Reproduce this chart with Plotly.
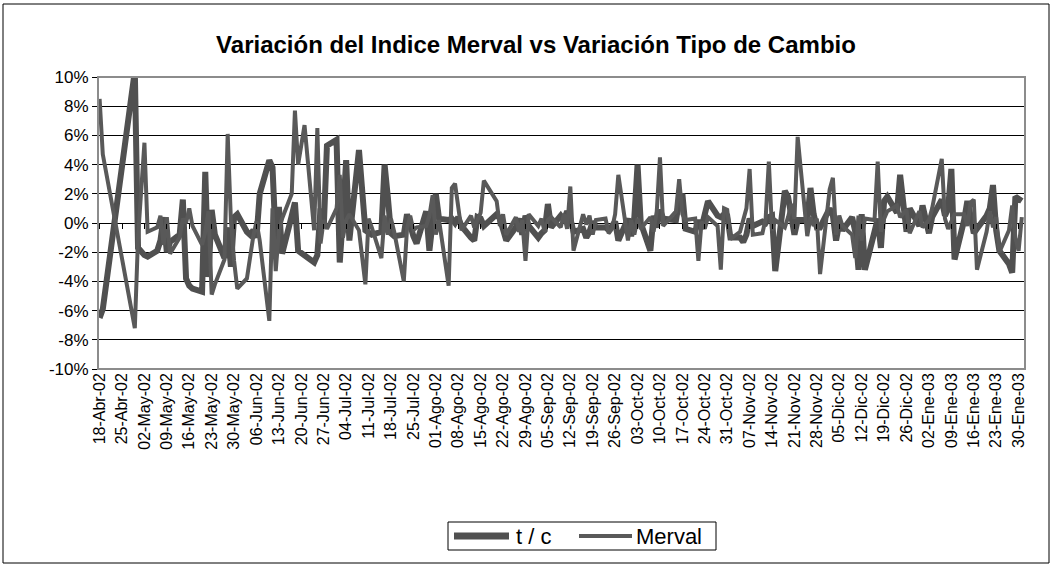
import pandas as pd
import plotly.graph_objects as go

# Trading days (weekdays) between first and last date, excluding market closures/holidays
start_date = "2002-04-18"
end_date = "2003-01-31"
closed_days = ["2002-04-22", "2002-04-23", "2002-04-24", "2002-04-25", "2002-04-26",
               "2002-05-01", "2002-06-20", "2002-07-09", "2002-08-19", "2002-10-14",
               "2002-12-25", "2003-01-01"]

# Daily variation of the exchange rate (t / c), in %
tc = [
    -6.5, -5.9,                      # 18-19 Apr
    10.4, -1.7,                      # 29-30 Apr
    -2.2, -2.3,                      # 2-3 May
    -1.9, -1.2, 0.4, -2.0, -1.3,     # 6-10 May
    -0.8, 1.6, -3.8, -4.3, -4.5,     # 13-17 May
    -4.7, 3.5, -3.7, 0.9, -0.8,      # 20-24 May
    -2.4, -0.3, -3.0, 0.4, 0.6,      # 27-31 May
    -0.6, -0.8, -0.5, -1.0, 2.0,     # 3-7 Jun
    4.3, 3.8, -1.2, 1.1, -2.1,       # 10-14 Jun
    0.5, 1.4, -1.9, -2.2,            # 17-21 Jun
    -2.7, -2.2, 1.0, -0.3, 5.3,      # 24-28 Jun
    5.7, -2.7, 0.5, 4.3, -1.2,       # 1-5 Jul
    5.0, -0.5, -0.6, -0.8,           # 8-12 Jul
    -0.6, 4.0, 1.8, -0.7, -0.9,      # 15-19 Jul
    -0.8, 0.6, -0.3, -0.9, -1.4,     # 22-26 Jul
    0.8, -1.9, -0.3, 2.0, 0.3,       # 29 Jul-2 Aug
    0.2, 0.3, 0.0, 0.4, -0.2,        # 5-9 Aug
    -1.0, -1.2, 0.4, 0.3, -0.2,      # 12-16 Aug
    0.6, 0.3, -0.4, -1.2,            # 20-23 Aug
    -0.3, 0.3, -0.8, 0.5, -0.2,      # 26-30 Aug
    -1.0, -0.7, -0.5, 1.3, -0.3,     # 2-6 Sep
    0.5, 0.2, 0.8, 0.3, -0.6,        # 9-13 Sep
    -0.4, -1.0, -0.6, 0.1, -0.3,     # 16-20 Sep
    -0.3, -0.5, -0.2, 0.1, -1.2,     # 23-27 Sep
    0.3, -0.9, 0.4, 4.0, 0.0,        # 30 Sep-4 Oct
    -1.9, 0.5, -0.3, 0.9, 0.3,       # 7-11 Oct
    0.2, 1.5, 2.0, -0.4,             # 15-18 Oct
    -0.6, 0.2, -0.3, 0.6, 1.5,       # 21-25 Oct
    0.5, 0.4, 0.6, 0.5, -1.0,        # 28 Oct-1 Nov
    -1.0, -1.3, -0.8, 0.3, -0.2,     # 4-8 Nov
    0.1, 0.0, 0.4, 0.5, -3.3,        # 11-15 Nov
    2.2, 1.8, 0.3, -0.8, 0.2,        # 18-22 Nov
    0.2, 2.4, 0.6, -0.3, -0.3,       # 25-29 Nov
    1.0, 0.5, -1.2, 0.0, -0.5,       # 2-6 Dec
    0.4, -0.6, -3.2, 0.6, -3.2,      # 9-13 Dec
    -0.6, 0.3, -1.7, 1.5, 1.8,       # 16-20 Dec
    0.7, 3.3, -0.6, 1.0,             # 23-27 Dec
    -0.2, 1.2,                       # 30-31 Dec
    -0.7, 0.4,                       # 2-3 Jan
    1.6, 0.5, 1.0, 3.7, -2.5,        # 6-10 Jan
    0.2, 1.5, 0.5, -0.7, -0.4,       # 13-17 Jan
    0.5, 1.0, 2.6, -0.5, -1.9,       # 20-24 Jan
    -2.8, -3.4, 1.8, 1.6, 1.5,       # 27-31 Jan
]

# Daily variation of the Merval index, in %
merval = [
    8.5, 4.7,
    -7.2, -1.0,
    5.5, -0.6,
    -0.3, 0.5, -1.5, 0.4, -2.1,
    -1.0, 0.3, 0.0, 1.0, -0.2,
    -1.5, -0.6, 0.8, -4.9, -4.2,
    -2.5, 6.1, 0.2, -2.6, -4.5,
    -3.8, -2.2, -0.9, 0.1, -1.2,
    -6.7, 1.0, -3.3, -0.5, 0.3,
    2.0, 7.7, 4.0, 6.7,
    -0.5, 6.5, -1.4, 0.2, -0.4,
    1.0, 3.3, -1.0, 0.2, 0.6,
    -0.5, -4.2, 0.3, -0.3,
    -2.4, 0.5, -0.8, 0.3, -0.6,
    -4.0, -0.4, 0.5, -0.5, -0.3,
    -0.2, 0.5, 1.9, -0.8, 0.2,
    -4.3, 2.4, 2.7, 1.2, -0.5,
    0.5, -0.3, 0.2, 0.7, 2.9,
    1.5, -0.2, 0.6, -0.8,
    0.4, -0.6, 0.2, -2.6, 0.6,
    -0.2, 0.3, -0.6, 0.2, 0.4,
    -0.3, 0.6, -0.4, 2.5, -1.9,
    0.6, -0.1, 0.5, -0.8, 0.2,
    0.3, -0.7, -0.4, 0.6, 3.3,
    -1.2, 0.2, -0.8, 0.3, -0.4,
    0.4, -0.6, 0.8, 4.5, -0.2,
    0.8, 3.0, 0.6, 0.2,
    0.3, -2.6, 0.1, -0.4, 0.4,
    -0.2, -3.2, 1.0, 0.9, -1.1,
    -0.6, 0.2, 1.0, 3.7, -0.8,
    -0.7, 0.3, 4.2, -0.5, 0.2,
    -0.3, 0.4, 1.3, 0.3, 5.9,
    -0.9, 0.4, -0.2, 0.3, -3.5,
    2.3, 3.1, -0.8, 0.5, -0.2,
    -0.8, -2.4, 0.5, -1.2, 0.3,
    0.2, 4.2, -0.6, 0.3, 0.8,
    1.2, 0.4, 0.9, -0.7,
    0.8, -0.3,
    0.2, 1.0,
    4.4, 0.3, -0.4, 0.1, 0.6,
    0.6, -0.2, 1.4, 1.6, -3.2,
    -0.6, 0.8, -0.3, 0.4, -2.0,
    -0.5, 1.2, -1.0, -1.9, 0.4,
]

series_names = ["t / c", "Merval"]

# Weekly tick labels
tick_dates = pd.date_range("2002-04-18", "2003-01-30", freq="7D")
month_es = {1: "Ene", 2: "Feb", 3: "Mar", 4: "Abr", 5: "May", 6: "Jun", 7: "Jul",
            8: "Ago", 9: "Sep", 10: "Oct", 11: "Nov", 12: "Dic"}
tick_text = [f"{d.day:02d}-{month_es[d.month]}-{d.strftime('%y')}" for d in tick_dates]

y_ticks = [-10, -8, -6, -4, -2, 0, 2, 4, 6, 8, 10]
y_text = [f"{v}%" for v in y_ticks]

dates = pd.bdate_range(start_date, end_date)
dates = dates[~dates.isin(pd.to_datetime(closed_days))]
assert len(dates) == len(tc) == len(merval), (len(dates), len(tc), len(merval))

TC_COLOR, MV_COLOR = "#505050", "#595959"
TC_W, MV_W = 6, 4
X_RANGE = ["2002-04-17 12:00", "2003-02-01"]

fig = go.Figure()
fig.add_trace(go.Scatter(x=dates, y=tc, mode="lines", name=series_names[0],
                         line=dict(color=TC_COLOR, width=TC_W), showlegend=False))
fig.add_trace(go.Scatter(x=dates, y=merval, mode="lines", name=series_names[1],
                         line=dict(color=MV_COLOR, width=MV_W), showlegend=False))

# page body margin is removed by post_script, so page pixels == figure pixels
W, H = 1053, 567
PL, PR, PT, PB = 98, 1025, 77, 369          # plot area in pixels
L, T, R, B = PL, PT, W - PR, H - PB
pw, ph = W - L - R, H - T - B


def px_x(x):
    return (x - L) / pw


def px_y(y):
    return (T + ph - y) / ph


fig.update_layout(
    width=W, height=H,
    margin=dict(l=L, r=R, t=T, b=B, autoexpand=False),
    paper_bgcolor="white", plot_bgcolor="white",
    font=dict(family="Liberation Sans, Arial, sans-serif", color="black"),
    title=dict(text="<b>Variación del Indice Merval vs Variación Tipo de Cambio</b>",
               x=536 / W, xanchor="center", y=1 - 45 / H,
               yanchor="middle", font=dict(size=24, color="black")),
    showlegend=False,
    xaxis=dict(type="date", range=X_RANGE,
               tickvals=tick_dates, ticktext=tick_text, tickangle=-90,
               tickfont=dict(size=16), showgrid=False, zeroline=False,
               showline=False, ticks="", automargin=False),
    # axis crossing at 0%: small tick marks on the zero line
    xaxis2=dict(type="date", range=X_RANGE, overlaying="x", anchor="free",
                position=0.5, side="bottom", tickvals=tick_dates,
                showticklabels=False, ticks="outside", ticklen=5,
                tickcolor="black", showgrid=False, zeroline=False,
                showline=False, automargin=False),
    yaxis=dict(range=[-10, 10], tickvals=y_ticks, ticktext=y_text,
               tickfont=dict(size=17), showgrid=True, gridcolor="black",
               gridwidth=1, zeroline=False, showline=True, linecolor="black",
               linewidth=1, ticks="outside", ticklen=5, tickcolor="black",
               automargin=False),
)
# invisible trace so the zero-line tick axis is drawn
fig.add_trace(go.Scatter(x=[dates[0]], y=[0], xaxis="x2", mode="markers",
                         marker=dict(opacity=0), showlegend=False, hoverinfo="skip"))

# Plot area border (gray) and outer chart border
fig.add_shape(type="rect", xref="paper", yref="paper", x0=0, x1=1, y0=0, y1=1,
              line=dict(color="#8c8c8c", width=2), layer="above")
fig.add_shape(type="rect", xref="paper", yref="paper",
              x0=px_x(3), x1=px_x(1049), y0=px_y(563), y1=px_y(4),
              line=dict(color="black", width=1))

# Legend box drawn by hand (Excel style)
leg_y = 536
fig.add_shape(type="rect", xref="paper", yref="paper",
              x0=px_x(448), x1=px_x(716), y0=px_y(550), y1=px_y(522),
              line=dict(color="black", width=1), fillcolor="white")
fig.add_shape(type="line", xref="paper", yref="paper",
              x0=px_x(454), x1=px_x(509), y0=px_y(leg_y), y1=px_y(leg_y),
              line=dict(color=TC_COLOR, width=TC_W + 1))
fig.add_shape(type="line", xref="paper", yref="paper",
              x0=px_x(579), x1=px_x(632), y0=px_y(leg_y), y1=px_y(leg_y),
              line=dict(color=MV_COLOR, width=MV_W))
fig.add_annotation(xref="paper", yref="paper", x=px_x(514), y=px_y(leg_y),
                   xanchor="left", yanchor="middle", showarrow=False,
                   text=series_names[0], font=dict(size=22, color="black"))
fig.add_annotation(xref="paper", yref="paper", x=px_x(634), y=px_y(leg_y),
                   xanchor="left", yanchor="middle", showarrow=False,
                   text=series_names[1], font=dict(size=22, color="black"))

fig.write_html("out.html", config={"displayModeBar": False},
               post_script="document.body.style.margin='0';")
